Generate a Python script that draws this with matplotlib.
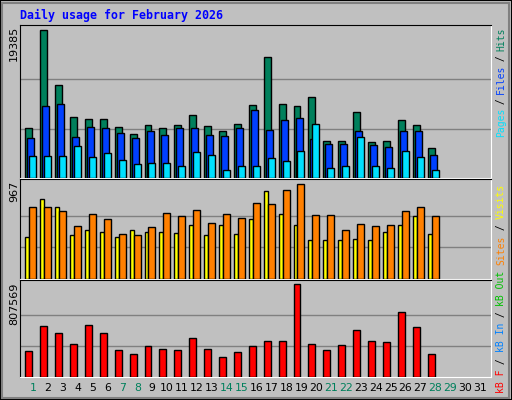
import numpy as np
import matplotlib
matplotlib.use("Agg")
import matplotlib.pyplot as plt
from matplotlib.patches import Rectangle

# ---- data ----
days = list(range(1, 29))
hits = [6491, 19385, 12149, 7939, 7676, 7676, 6623, 5702, 6886, 6491, 6886, 8202, 6754, 6097,
        7018, 9518, 15833, 9649, 9386, 10570, 4781, 4781, 8597, 4649, 4781, 7544, 6886, 3860]
files = [5175, 9386, 9649, 5307, 6623, 6491, 5833, 5175, 6097, 5570, 6491, 6491, 5570, 5439,
         6491, 8860, 6228, 7544, 7807, 5044, 4386, 4386, 6097, 4254, 3991, 6097, 6097, 3070]
pages = [2939, 2939, 2939, 4123, 2807, 3202, 2412, 1886, 2018, 2018, 1623, 3333, 3070, 1097,
         1623, 1623, 2675, 2281, 3465, 7018, 1360, 1623, 5307, 1623, 1360, 3465, 2807, 1097]
visits = [433, 820, 736, 454, 506, 485, 433, 506, 485, 485, 475, 548, 454, 548,
          464, 611, 904, 663, 548, 401, 401, 401, 412, 401, 485, 548, 642, 464]
sites = [736, 736, 695, 537, 663, 611, 464, 454, 527, 674, 642, 705, 569, 663,
         621, 778, 768, 914, 967, 653, 653, 496, 558, 537, 548, 695, 736, 642]
kbytes = [223972, 444997, 383110, 285859, 453838, 383110, 232813, 197449, 268177, 241654,
          232813, 338905, 241654, 170926, 215131, 268177, 312382, 312382, 807569, 285859,
          232813, 277018, 409633, 312382, 303541, 568771, 436156, 197449]
weekend_days = [1, 7, 8, 14, 15, 21, 22, 28, 29]

max_hits = 19385
max_visits = 967
max_kb = 807569

W, H = 512, 400
BG = "#c0c0c0"
C_HITS, C_FILES, C_PAGES = "#00805c", "#0040ff", "#00e0ff"
C_VISITS, C_SITES, C_KB = "#ffff00", "#ff8000", "#ff0000"

fig = plt.figure(figsize=(W / 100, H / 100), dpi=100)
fig.patch.set_facecolor(BG)

# outer bevel frame
fig.patches.append(Rectangle((0, 0), 1, 1, transform=fig.transFigure, fill=False,
                             edgecolor="black", linewidth=1.5))
fig.patches.append(Rectangle((2 / W, 2 / H), 1 - 5 / W, 1 - 5 / H, transform=fig.transFigure,
                             fill=False, edgecolor="#808080", linewidth=1.5))


def px_axes(x0, y0, x1, y1):
    ax = fig.add_axes([x0 / W, 1 - y1 / H, (x1 - x0) / W, (y1 - y0) / H])
    ax.set_facecolor(BG)
    ax.spines["top"].set_color("black")
    ax.spines["left"].set_color("black")
    ax.spines["bottom"].set_color("white")
    ax.spines["right"].set_color("white")
    ax.set_xlim(0.13, 31.74)
    ax.set_yticks([])
    ax.tick_params(length=0)
    return ax


d = np.array(days)
bar_kw = dict(edgecolor="black", linewidth=1, align="edge", zorder=3)

# top: hits / files / pages
ax1 = px_axes(20, 25, 491, 178)
ax1.set_ylim(0, max_hits * 152 / 147.4)
for g in (max_hits / 3, 2 * max_hits / 3):
    ax1.axhline(g, color="#808080", linewidth=1, zorder=1)
ax1.bar(d - 0.51, hits, 0.46, color=C_HITS, **bar_kw)
ax1.bar(d - 0.38, files, 0.47, color=C_FILES, **bar_kw)
ax1.bar(d - 0.25, pages, 0.47, color=C_PAGES, **bar_kw)
ax1.set_xticks([])

# middle: visits / sites
ax2 = px_axes(20, 179, 491, 279)
ax2.set_ylim(0, max_visits * 97.7 / 92.4)
for g in (max_visits / 3, 2 * max_visits / 3):
    ax2.axhline(g, color="#808080", linewidth=1, zorder=1)
ax2.bar(d - 0.51, visits, 0.26, color=C_VISITS, **bar_kw)
ax2.bar(d - 0.25, sites, 0.47, color=C_SITES, **bar_kw)
ax2.set_xticks([])

# bottom: kbytes
ax3 = px_axes(20, 280, 491, 377)
ax3.set_ylim(0, max_kb * 95.7 / 91.3)
for g in (max_kb / 3, 2 * max_kb / 3):
    ax3.axhline(g, color="#808080", linewidth=1, zorder=1)
ax3.bar(d - 0.51, kbytes, 0.46, color=C_KB, **bar_kw)
ax3.set_xticks(range(1, 32))
ax3.set_xticklabels([str(i) for i in range(1, 32)], fontsize=7.8, family="DejaVu Sans")
for lab, day in zip(ax3.get_xticklabels(), range(1, 32)):
    lab.set_color(C_HITS if day in weekend_days else "black")
ax3.tick_params(axis="x", pad=4)

# title
fig.text(20 / W, 1 - 15 / H, "Daily usage for February 2026", color="#0000ff",
         family="DejaVu Sans Mono", weight="bold", fontsize=8.4, va="center", ha="left")

# max value labels on the left
for y, s in ((26, str(max_hits)), (181, str(max_visits)), (283, str(max_kb))):
    fig.text(14 / W, 1 - y / H, s, rotation=90, fontsize=8, ha="center", va="top")


def side_label(y_start, segments, ch):
    y = y_start
    for txt, col in segments:
        fig.text(501 / W, 1 - y / H, txt, rotation=90, color=col, fontsize=7,
                 family="DejaVu Sans Mono", ha="center", va="bottom")
        y -= len(txt) * ch


side_label(137, [("Pages", C_PAGES), (" / ", "black"), ("Files", C_FILES),
                 (" / ", "black"), ("Hits", C_HITS)], 5.4)
side_label(393, [("kB F", C_KB), (" / ", "black"), ("kB In", "#0080ff"), (" / ", "black"),
                 ("kB Out", "#00c000"), (" ", "black"), ("Sites", C_SITES),
                 (" / ", "black"), ("Visits", C_VISITS)], 5.8)

fig.savefig("out.png", dpi=100, facecolor=BG)
